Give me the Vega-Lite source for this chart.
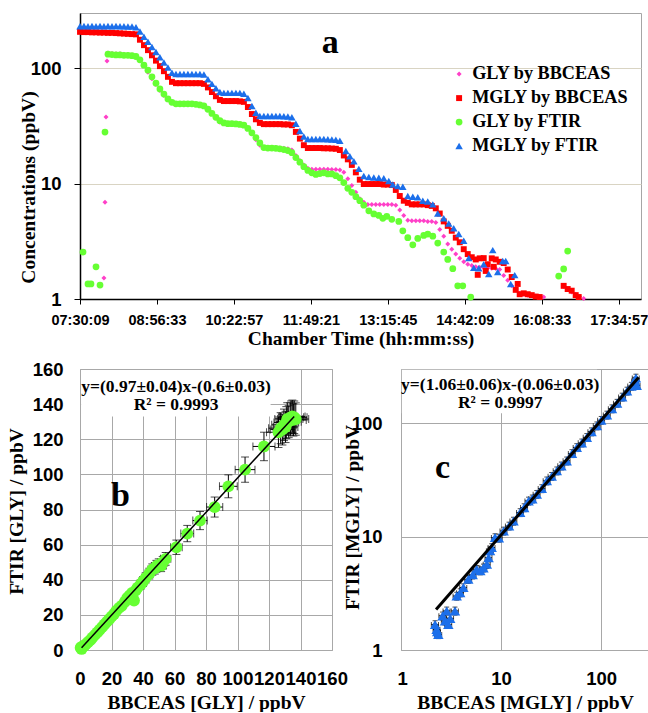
{
"$schema": "https://vega.github.io/schema/vega-lite/v6.json",
"padding": {"left": 5, "top": 12, "right": 0, "bottom": 0},
"background": "white",
"config": {
  "view": {"stroke": "#A6A6A6", "strokeWidth": 1},
  "axis": {"labelFont": "Liberation Sans", "labelFontWeight": "bold", "labelColor": "black", "titleFont": "Liberation Serif", "titleFontWeight": "bold", "titleFontSize": 19.5, "titleColor": "black"}
},
"datasets": {
"a": [
{"t":7.951,"v":1.52,"s":"GLY by BBCEAS"},{"t":7.970,"v":6.9,"s":"GLY by BBCEAS"},{"t":7.989,"v":37.7,"s":"GLY by BBCEAS"},{"t":8.008,"v":115,"s":"GLY by BBCEAS"},
{"t":8.026,"v":135,"s":"GLY by BBCEAS"},{"t":8.101,"v":134,"s":"GLY by BBCEAS"},{"t":8.176,"v":133,"s":"GLY by BBCEAS"},{"t":8.251,"v":133,"s":"GLY by BBCEAS"},{"t":8.325,"v":132,"s":"GLY by BBCEAS"},{"t":8.400,"v":131,"s":"GLY by BBCEAS"},{"t":8.475,"v":130,"s":"GLY by BBCEAS"},{"t":8.550,"v":128,"s":"GLY by BBCEAS"},{"t":8.624,"v":118,"s":"GLY by BBCEAS"},{"t":8.699,"v":104,"s":"GLY by BBCEAS"},{"t":8.774,"v":92,"s":"GLY by BBCEAS"},{"t":8.849,"v":81,"s":"GLY by BBCEAS"},{"t":8.924,"v":72,"s":"GLY by BBCEAS"},{"t":8.998,"v":64,"s":"GLY by BBCEAS"},{"t":9.073,"v":58,"s":"GLY by BBCEAS"},{"t":9.148,"v":53,"s":"GLY by BBCEAS"},{"t":9.223,"v":50,"s":"GLY by BBCEAS"},{"t":9.298,"v":49.5,"s":"GLY by BBCEAS"},{"t":9.373,"v":49.5,"s":"GLY by BBCEAS"},{"t":9.447,"v":49.5,"s":"GLY by BBCEAS"},{"t":9.522,"v":49.5,"s":"GLY by BBCEAS"},{"t":9.597,"v":49,"s":"GLY by BBCEAS"},{"t":9.672,"v":49,"s":"GLY by BBCEAS"},{"t":9.746,"v":48.5,"s":"GLY by BBCEAS"},{"t":9.821,"v":48,"s":"GLY by BBCEAS"},{"t":9.896,"v":45,"s":"GLY by BBCEAS"},{"t":9.971,"v":41,"s":"GLY by BBCEAS"},{"t":10.046,"v":37,"s":"GLY by BBCEAS"},{"t":10.120,"v":34,"s":"GLY by BBCEAS"},{"t":10.195,"v":33.5,"s":"GLY by BBCEAS"},{"t":10.270,"v":33.5,"s":"GLY by BBCEAS"},{"t":10.345,"v":33.5,"s":"GLY by BBCEAS"},{"t":10.420,"v":33,"s":"GLY by BBCEAS"},{"t":10.494,"v":33,"s":"GLY by BBCEAS"},{"t":10.569,"v":32.5,"s":"GLY by BBCEAS"},{"t":10.644,"v":30,"s":"GLY by BBCEAS"},{"t":10.719,"v":27,"s":"GLY by BBCEAS"},{"t":10.794,"v":24,"s":"GLY by BBCEAS"},{"t":10.868,"v":21.5,"s":"GLY by BBCEAS"},{"t":10.943,"v":20.5,"s":"GLY by BBCEAS"},{"t":11.018,"v":20.5,"s":"GLY by BBCEAS"},{"t":11.093,"v":20.5,"s":"GLY by BBCEAS"},{"t":11.168,"v":20.5,"s":"GLY by BBCEAS"},{"t":11.242,"v":20.3,"s":"GLY by BBCEAS"},{"t":11.317,"v":20.2,"s":"GLY by BBCEAS"},{"t":11.392,"v":20,"s":"GLY by BBCEAS"},{"t":11.467,"v":19.5,"s":"GLY by BBCEAS"},{"t":11.542,"v":17.5,"s":"GLY by BBCEAS"},{"t":11.617,"v":15.8,"s":"GLY by BBCEAS"},{"t":11.691,"v":14.5,"s":"GLY by BBCEAS"},{"t":11.766,"v":13.6,"s":"GLY by BBCEAS"},{"t":11.841,"v":13.3,"s":"GLY by BBCEAS"},{"t":11.916,"v":13.3,"s":"GLY by BBCEAS"},{"t":11.990,"v":13.3,"s":"GLY by BBCEAS"},{"t":12.065,"v":13.3,"s":"GLY by BBCEAS"},{"t":12.140,"v":13.3,"s":"GLY by BBCEAS"},{"t":12.215,"v":13.2,"s":"GLY by BBCEAS"},{"t":12.290,"v":13.2,"s":"GLY by BBCEAS"},{"t":12.365,"v":13.1,"s":"GLY by BBCEAS"},{"t":12.439,"v":12.5,"s":"GLY by BBCEAS"},{"t":12.514,"v":11,"s":"GLY by BBCEAS"},{"t":12.589,"v":9.6,"s":"GLY by BBCEAS"},{"t":12.664,"v":8.4,"s":"GLY by BBCEAS"},{"t":12.738,"v":7.4,"s":"GLY by BBCEAS"},{"t":12.813,"v":6.9,"s":"GLY by BBCEAS"},{"t":12.888,"v":6.6,"s":"GLY by BBCEAS"},{"t":12.963,"v":6.6,"s":"GLY by BBCEAS"},{"t":13.038,"v":6.6,"s":"GLY by BBCEAS"},{"t":13.112,"v":6.6,"s":"GLY by BBCEAS"},{"t":13.187,"v":6.6,"s":"GLY by BBCEAS"},{"t":13.262,"v":6.6,"s":"GLY by BBCEAS"},{"t":13.337,"v":6.6,"s":"GLY by BBCEAS"},{"t":13.412,"v":6.5,"s":"GLY by BBCEAS"},{"t":13.486,"v":5.9,"s":"GLY by BBCEAS"},{"t":13.561,"v":5.3,"s":"GLY by BBCEAS"},{"t":13.636,"v":4.8,"s":"GLY by BBCEAS"},{"t":13.711,"v":4.75,"s":"GLY by BBCEAS"},{"t":13.786,"v":4.75,"s":"GLY by BBCEAS"},{"t":13.860,"v":4.75,"s":"GLY by BBCEAS"},{"t":13.935,"v":4.75,"s":"GLY by BBCEAS"},{"t":14.010,"v":4.7,"s":"GLY by BBCEAS"},{"t":14.085,"v":4.7,"s":"GLY by BBCEAS"},{"t":14.160,"v":4.6,"s":"GLY by BBCEAS"},{"t":14.234,"v":4.0,"s":"GLY by BBCEAS"},{"t":14.309,"v":3.5,"s":"GLY by BBCEAS"},{"t":14.384,"v":3.0,"s":"GLY by BBCEAS"},{"t":14.459,"v":2.7,"s":"GLY by BBCEAS"},{"t":14.534,"v":2.45,"s":"GLY by BBCEAS"},{"t":14.608,"v":2.25,"s":"GLY by BBCEAS"},{"t":14.683,"v":2.1,"s":"GLY by BBCEAS"},{"t":14.758,"v":2.0,"s":"GLY by BBCEAS"},{"t":14.833,"v":1.95,"s":"GLY by BBCEAS"},{"t":14.908,"v":1.9,"s":"GLY by BBCEAS"},{"t":14.982,"v":1.88,"s":"GLY by BBCEAS"},{"t":15.057,"v":1.86,"s":"GLY by BBCEAS"},{"t":15.132,"v":1.85,"s":"GLY by BBCEAS"},{"t":15.207,"v":1.85,"s":"GLY by BBCEAS"},{"t":15.282,"v":1.84,"s":"GLY by BBCEAS"},{"t":15.356,"v":1.8,"s":"GLY by BBCEAS"},{"t":15.431,"v":1.6,"s":"GLY by BBCEAS"},{"t":15.506,"v":1.45,"s":"GLY by BBCEAS"},{"t":15.581,"v":1.3,"s":"GLY by BBCEAS"},{"t":15.656,"v":1.2,"s":"GLY by BBCEAS"},{"t":15.730,"v":1.12,"s":"GLY by BBCEAS"},{"t":15.805,"v":1.1,"s":"GLY by BBCEAS"},{"t":15.880,"v":1.08,"s":"GLY by BBCEAS"},{"t":15.955,"v":1.07,"s":"GLY by BBCEAS"},{"t":16.030,"v":1.06,"s":"GLY by BBCEAS"},{"t":16.104,"v":1.05,"s":"GLY by BBCEAS"},{"t":16.179,"v":1.04,"s":"GLY by BBCEAS"},{"t":16.553,"v":1.28,"s":"GLY by BBCEAS"},{"t":16.628,"v":1.22,"s":"GLY by BBCEAS"},{"t":16.703,"v":1.15,"s":"GLY by BBCEAS"},{"t":16.778,"v":1.1,"s":"GLY by BBCEAS"},{"t":16.852,"v":1.05,"s":"GLY by BBCEAS"},{"t":16.927,"v":1.01,"s":"GLY by BBCEAS"},
{"t":7.503,"v":206,"s":"MGLY by BBCEAS"},{"t":7.577,"v":205,"s":"MGLY by BBCEAS"},{"t":7.652,"v":205,"s":"MGLY by BBCEAS"},{"t":7.727,"v":204,"s":"MGLY by BBCEAS"},{"t":7.802,"v":204,"s":"MGLY by BBCEAS"},{"t":7.877,"v":203,"s":"MGLY by BBCEAS"},{"t":7.951,"v":203,"s":"MGLY by BBCEAS"},{"t":8.026,"v":202,"s":"MGLY by BBCEAS"},{"t":8.101,"v":202,"s":"MGLY by BBCEAS"},{"t":8.176,"v":201,"s":"MGLY by BBCEAS"},{"t":8.251,"v":200,"s":"MGLY by BBCEAS"},{"t":8.325,"v":199,"s":"MGLY by BBCEAS"},{"t":8.400,"v":198,"s":"MGLY by BBCEAS"},{"t":8.475,"v":197,"s":"MGLY by BBCEAS"},{"t":8.550,"v":196,"s":"MGLY by BBCEAS"},{"t":8.624,"v":176,"s":"MGLY by BBCEAS"},{"t":8.699,"v":158,"s":"MGLY by BBCEAS"},{"t":8.774,"v":143,"s":"MGLY by BBCEAS"},{"t":8.849,"v":129,"s":"MGLY by BBCEAS"},{"t":8.924,"v":116,"s":"MGLY by BBCEAS"},{"t":8.998,"v":104,"s":"MGLY by BBCEAS"},{"t":9.073,"v":94,"s":"MGLY by BBCEAS"},{"t":9.148,"v":84,"s":"MGLY by BBCEAS"},{"t":9.223,"v":76,"s":"MGLY by BBCEAS"},{"t":9.298,"v":74,"s":"MGLY by BBCEAS"},{"t":9.373,"v":74,"s":"MGLY by BBCEAS"},{"t":9.447,"v":74,"s":"MGLY by BBCEAS"},{"t":9.522,"v":74,"s":"MGLY by BBCEAS"},{"t":9.597,"v":74,"s":"MGLY by BBCEAS"},{"t":9.672,"v":74,"s":"MGLY by BBCEAS"},{"t":9.746,"v":74,"s":"MGLY by BBCEAS"},{"t":9.821,"v":73,"s":"MGLY by BBCEAS"},{"t":9.896,"v":68,"s":"MGLY by BBCEAS"},{"t":9.971,"v":62,"s":"MGLY by BBCEAS"},{"t":10.046,"v":57,"s":"MGLY by BBCEAS"},{"t":10.120,"v":53,"s":"MGLY by BBCEAS"},{"t":10.195,"v":51.8,"s":"MGLY by BBCEAS"},{"t":10.270,"v":51.8,"s":"MGLY by BBCEAS"},{"t":10.345,"v":51.8,"s":"MGLY by BBCEAS"},{"t":10.420,"v":51.8,"s":"MGLY by BBCEAS"},{"t":10.494,"v":51.5,"s":"MGLY by BBCEAS"},{"t":10.569,"v":51,"s":"MGLY by BBCEAS"},{"t":10.644,"v":46,"s":"MGLY by BBCEAS"},{"t":10.719,"v":40,"s":"MGLY by BBCEAS"},{"t":10.794,"v":36,"s":"MGLY by BBCEAS"},{"t":10.868,"v":33.5,"s":"MGLY by BBCEAS"},{"t":10.943,"v":32.7,"s":"MGLY by BBCEAS"},{"t":11.018,"v":32.7,"s":"MGLY by BBCEAS"},{"t":11.093,"v":32.7,"s":"MGLY by BBCEAS"},{"t":11.168,"v":32.7,"s":"MGLY by BBCEAS"},{"t":11.242,"v":32.7,"s":"MGLY by BBCEAS"},{"t":11.317,"v":32.5,"s":"MGLY by BBCEAS"},{"t":11.392,"v":32.5,"s":"MGLY by BBCEAS"},{"t":11.467,"v":32,"s":"MGLY by BBCEAS"},{"t":11.542,"v":28,"s":"MGLY by BBCEAS"},{"t":11.617,"v":24.5,"s":"MGLY by BBCEAS"},{"t":11.691,"v":21.5,"s":"MGLY by BBCEAS"},{"t":11.766,"v":20.3,"s":"MGLY by BBCEAS"},{"t":11.841,"v":20.3,"s":"MGLY by BBCEAS"},{"t":11.916,"v":20.3,"s":"MGLY by BBCEAS"},{"t":11.990,"v":20.3,"s":"MGLY by BBCEAS"},{"t":12.065,"v":20.2,"s":"MGLY by BBCEAS"},{"t":12.140,"v":20.2,"s":"MGLY by BBCEAS"},{"t":12.215,"v":20.1,"s":"MGLY by BBCEAS"},{"t":12.290,"v":20,"s":"MGLY by BBCEAS"},{"t":12.365,"v":19.5,"s":"MGLY by BBCEAS"},{"t":12.439,"v":17.5,"s":"MGLY by BBCEAS"},{"t":12.514,"v":16.2,"s":"MGLY by BBCEAS"},{"t":12.589,"v":14.5,"s":"MGLY by BBCEAS"},{"t":12.664,"v":12.5,"s":"MGLY by BBCEAS"},{"t":12.738,"v":10.8,"s":"MGLY by BBCEAS"},{"t":12.813,"v":9.9,"s":"MGLY by BBCEAS"},{"t":12.888,"v":9.9,"s":"MGLY by BBCEAS"},{"t":12.963,"v":9.9,"s":"MGLY by BBCEAS"},{"t":13.038,"v":9.9,"s":"MGLY by BBCEAS"},{"t":13.112,"v":9.9,"s":"MGLY by BBCEAS"},{"t":13.187,"v":9.8,"s":"MGLY by BBCEAS"},{"t":13.262,"v":9.8,"s":"MGLY by BBCEAS"},{"t":13.337,"v":9.7,"s":"MGLY by BBCEAS"},{"t":13.412,"v":8.8,"s":"MGLY by BBCEAS"},{"t":13.486,"v":7.8,"s":"MGLY by BBCEAS"},{"t":13.561,"v":7.1,"s":"MGLY by BBCEAS"},{"t":13.636,"v":6.8,"s":"MGLY by BBCEAS"},{"t":13.711,"v":6.6,"s":"MGLY by BBCEAS"},{"t":13.786,"v":6.6,"s":"MGLY by BBCEAS"},{"t":13.860,"v":6.6,"s":"MGLY by BBCEAS"},{"t":13.935,"v":6.6,"s":"MGLY by BBCEAS"},{"t":14.010,"v":6.5,"s":"MGLY by BBCEAS"},{"t":14.085,"v":6.4,"s":"MGLY by BBCEAS"},{"t":14.160,"v":6.1,"s":"MGLY by BBCEAS"},{"t":14.234,"v":5.5,"s":"MGLY by BBCEAS"},{"t":14.309,"v":4.7,"s":"MGLY by BBCEAS"},{"t":14.384,"v":4.3,"s":"MGLY by BBCEAS"},{"t":14.459,"v":3.9,"s":"MGLY by BBCEAS"},{"t":14.534,"v":3.4,"s":"MGLY by BBCEAS"},{"t":14.608,"v":3.1,"s":"MGLY by BBCEAS"},{"t":14.683,"v":2.7,"s":"MGLY by BBCEAS"},{"t":14.758,"v":2.45,"s":"MGLY by BBCEAS"},{"t":14.833,"v":2.3,"s":"MGLY by BBCEAS"},{"t":14.908,"v":2.2,"s":"MGLY by BBCEAS"},{"t":14.945,"v":1.62,"s":"MGLY by BBCEAS"},{"t":14.982,"v":2.25,"s":"MGLY by BBCEAS"},{"t":15.057,"v":2.26,"s":"MGLY by BBCEAS"},{"t":15.095,"v":1.75,"s":"MGLY by BBCEAS"},{"t":15.132,"v":2.0,"s":"MGLY by BBCEAS"},{"t":15.207,"v":2.25,"s":"MGLY by BBCEAS"},{"t":15.245,"v":1.9,"s":"MGLY by BBCEAS"},{"t":15.282,"v":2.2,"s":"MGLY by BBCEAS"},{"t":15.356,"v":2.1,"s":"MGLY by BBCEAS"},{"t":15.431,"v":2.05,"s":"MGLY by BBCEAS"},{"t":15.506,"v":1.8,"s":"MGLY by BBCEAS"},{"t":15.581,"v":1.55,"s":"MGLY by BBCEAS"},{"t":15.656,"v":1.2,"s":"MGLY by BBCEAS"},{"t":15.693,"v":1.35,"s":"MGLY by BBCEAS"},{"t":15.730,"v":1.1,"s":"MGLY by BBCEAS"},{"t":15.805,"v":1.12,"s":"MGLY by BBCEAS"},{"t":15.880,"v":1.1,"s":"MGLY by BBCEAS"},{"t":15.955,"v":1.08,"s":"MGLY by BBCEAS"},{"t":16.030,"v":1.05,"s":"MGLY by BBCEAS"},{"t":16.104,"v":1.04,"s":"MGLY by BBCEAS"},{"t":16.553,"v":1.3,"s":"MGLY by BBCEAS"},{"t":16.628,"v":1.22,"s":"MGLY by BBCEAS"},{"t":16.703,"v":1.18,"s":"MGLY by BBCEAS"},{"t":16.778,"v":1.08,"s":"MGLY by BBCEAS"},{"t":16.834,"v":1.04,"s":"MGLY by BBCEAS"},
{"t":7.559,"v":2.55,"s":"GLY by FTIR"},{"t":7.652,"v":1.35,"s":"GLY by FTIR"},{"t":7.708,"v":1.35,"s":"GLY by FTIR"},{"t":7.802,"v":1.9,"s":"GLY by FTIR"},{"t":7.877,"v":1.32,"s":"GLY by FTIR"},{"t":7.970,"v":27.9,"s":"GLY by FTIR"},{"t":8.026,"v":132,"s":"GLY by FTIR"},{"t":8.101,"v":131,"s":"GLY by FTIR"},{"t":8.176,"v":130,"s":"GLY by FTIR"},{"t":8.251,"v":130,"s":"GLY by FTIR"},{"t":8.325,"v":129,"s":"GLY by FTIR"},{"t":8.400,"v":129,"s":"GLY by FTIR"},{"t":8.475,"v":128,"s":"GLY by FTIR"},{"t":8.550,"v":126,"s":"GLY by FTIR"},{"t":8.624,"v":118,"s":"GLY by FTIR"},{"t":8.699,"v":106,"s":"GLY by FTIR"},{"t":8.774,"v":96,"s":"GLY by FTIR"},{"t":8.849,"v":84,"s":"GLY by FTIR"},{"t":8.924,"v":74,"s":"GLY by FTIR"},{"t":8.998,"v":66,"s":"GLY by FTIR"},{"t":9.073,"v":59.5,"s":"GLY by FTIR"},{"t":9.148,"v":54,"s":"GLY by FTIR"},{"t":9.223,"v":50.5,"s":"GLY by FTIR"},{"t":9.298,"v":49,"s":"GLY by FTIR"},{"t":9.373,"v":49,"s":"GLY by FTIR"},{"t":9.447,"v":49,"s":"GLY by FTIR"},{"t":9.522,"v":49,"s":"GLY by FTIR"},{"t":9.597,"v":49,"s":"GLY by FTIR"},{"t":9.672,"v":48.5,"s":"GLY by FTIR"},{"t":9.746,"v":48,"s":"GLY by FTIR"},{"t":9.821,"v":47,"s":"GLY by FTIR"},{"t":9.896,"v":44,"s":"GLY by FTIR"},{"t":9.971,"v":40.5,"s":"GLY by FTIR"},{"t":10.046,"v":37.5,"s":"GLY by FTIR"},{"t":10.120,"v":35,"s":"GLY by FTIR"},{"t":10.195,"v":33.5,"s":"GLY by FTIR"},{"t":10.270,"v":33,"s":"GLY by FTIR"},{"t":10.345,"v":33,"s":"GLY by FTIR"},{"t":10.420,"v":32.8,"s":"GLY by FTIR"},{"t":10.494,"v":32.5,"s":"GLY by FTIR"},{"t":10.569,"v":32,"s":"GLY by FTIR"},{"t":10.644,"v":30,"s":"GLY by FTIR"},{"t":10.719,"v":27.5,"s":"GLY by FTIR"},{"t":10.794,"v":25,"s":"GLY by FTIR"},{"t":10.868,"v":22.5,"s":"GLY by FTIR"},{"t":10.943,"v":20.5,"s":"GLY by FTIR"},{"t":11.018,"v":20.3,"s":"GLY by FTIR"},{"t":11.093,"v":20.3,"s":"GLY by FTIR"},{"t":11.168,"v":20.2,"s":"GLY by FTIR"},{"t":11.242,"v":20,"s":"GLY by FTIR"},{"t":11.317,"v":19.7,"s":"GLY by FTIR"},{"t":11.392,"v":19.3,"s":"GLY by FTIR"},{"t":11.467,"v":18.5,"s":"GLY by FTIR"},{"t":11.542,"v":16.8,"s":"GLY by FTIR"},{"t":11.617,"v":15.3,"s":"GLY by FTIR"},{"t":11.691,"v":14,"s":"GLY by FTIR"},{"t":11.766,"v":13,"s":"GLY by FTIR"},{"t":11.841,"v":12.4,"s":"GLY by FTIR"},{"t":11.916,"v":12,"s":"GLY by FTIR"},{"t":11.990,"v":12.2,"s":"GLY by FTIR"},{"t":12.065,"v":12.4,"s":"GLY by FTIR"},{"t":12.140,"v":12.1,"s":"GLY by FTIR"},{"t":12.215,"v":12.1,"s":"GLY by FTIR"},{"t":12.290,"v":11.7,"s":"GLY by FTIR"},{"t":12.365,"v":11.2,"s":"GLY by FTIR"},{"t":12.439,"v":10.2,"s":"GLY by FTIR"},{"t":12.514,"v":9.1,"s":"GLY by FTIR"},{"t":12.589,"v":8.4,"s":"GLY by FTIR"},{"t":12.664,"v":7.7,"s":"GLY by FTIR"},{"t":12.738,"v":7.1,"s":"GLY by FTIR"},{"t":12.813,"v":6.5,"s":"GLY by FTIR"},{"t":12.907,"v":5.8,"s":"GLY by FTIR"},{"t":13.000,"v":5.45,"s":"GLY by FTIR"},{"t":13.094,"v":5.3,"s":"GLY by FTIR"},{"t":13.169,"v":5.0,"s":"GLY by FTIR"},{"t":13.243,"v":5.2,"s":"GLY by FTIR"},{"t":13.337,"v":4.9,"s":"GLY by FTIR"},{"t":13.468,"v":4.7,"s":"GLY by FTIR"},{"t":13.543,"v":3.9,"s":"GLY by FTIR"},{"t":13.636,"v":3.4,"s":"GLY by FTIR"},{"t":13.730,"v":2.95,"s":"GLY by FTIR"},{"t":13.823,"v":3.35,"s":"GLY by FTIR"},{"t":13.935,"v":3.55,"s":"GLY by FTIR"},{"t":14.010,"v":3.65,"s":"GLY by FTIR"},{"t":14.104,"v":3.5,"s":"GLY by FTIR"},{"t":14.197,"v":3.05,"s":"GLY by FTIR"},{"t":14.309,"v":2.55,"s":"GLY by FTIR"},{"t":14.384,"v":2.2,"s":"GLY by FTIR"},{"t":14.478,"v":1.83,"s":"GLY by FTIR"},{"t":14.571,"v":1.3,"s":"GLY by FTIR"},{"t":14.665,"v":1.3,"s":"GLY by FTIR"},{"t":14.814,"v":1.04,"s":"GLY by FTIR"},{"t":16.460,"v":1.58,"s":"GLY by FTIR"},{"t":16.553,"v":1.82,"s":"GLY by FTIR"},{"t":16.628,"v":2.6,"s":"GLY by FTIR"},
{"t":7.503,"v":230,"s":"MGLY by FTIR"},{"t":7.577,"v":232,"s":"MGLY by FTIR"},{"t":7.652,"v":230,"s":"MGLY by FTIR"},{"t":7.727,"v":232,"s":"MGLY by FTIR"},{"t":7.802,"v":230,"s":"MGLY by FTIR"},{"t":7.877,"v":232,"s":"MGLY by FTIR"},{"t":7.951,"v":230,"s":"MGLY by FTIR"},{"t":8.026,"v":231,"s":"MGLY by FTIR"},{"t":8.101,"v":230,"s":"MGLY by FTIR"},{"t":8.176,"v":231,"s":"MGLY by FTIR"},{"t":8.251,"v":230,"s":"MGLY by FTIR"},{"t":8.325,"v":230,"s":"MGLY by FTIR"},{"t":8.400,"v":229,"s":"MGLY by FTIR"},{"t":8.475,"v":229,"s":"MGLY by FTIR"},{"t":8.550,"v":226,"s":"MGLY by FTIR"},{"t":8.624,"v":207,"s":"MGLY by FTIR"},{"t":8.699,"v":187,"s":"MGLY by FTIR"},{"t":8.774,"v":169,"s":"MGLY by FTIR"},{"t":8.849,"v":152,"s":"MGLY by FTIR"},{"t":8.924,"v":138,"s":"MGLY by FTIR"},{"t":8.998,"v":124,"s":"MGLY by FTIR"},{"t":9.073,"v":112,"s":"MGLY by FTIR"},{"t":9.148,"v":101,"s":"MGLY by FTIR"},{"t":9.223,"v":91,"s":"MGLY by FTIR"},{"t":9.298,"v":89,"s":"MGLY by FTIR"},{"t":9.373,"v":89,"s":"MGLY by FTIR"},{"t":9.447,"v":89,"s":"MGLY by FTIR"},{"t":9.522,"v":89,"s":"MGLY by FTIR"},{"t":9.597,"v":89,"s":"MGLY by FTIR"},{"t":9.672,"v":89,"s":"MGLY by FTIR"},{"t":9.746,"v":89,"s":"MGLY by FTIR"},{"t":9.821,"v":88,"s":"MGLY by FTIR"},{"t":9.896,"v":80,"s":"MGLY by FTIR"},{"t":9.971,"v":73,"s":"MGLY by FTIR"},{"t":10.046,"v":67,"s":"MGLY by FTIR"},{"t":10.120,"v":62,"s":"MGLY by FTIR"},{"t":10.195,"v":61,"s":"MGLY by FTIR"},{"t":10.270,"v":61,"s":"MGLY by FTIR"},{"t":10.345,"v":61,"s":"MGLY by FTIR"},{"t":10.420,"v":61,"s":"MGLY by FTIR"},{"t":10.494,"v":61,"s":"MGLY by FTIR"},{"t":10.569,"v":60,"s":"MGLY by FTIR"},{"t":10.644,"v":55,"s":"MGLY by FTIR"},{"t":10.719,"v":47,"s":"MGLY by FTIR"},{"t":10.794,"v":41,"s":"MGLY by FTIR"},{"t":10.868,"v":38.4,"s":"MGLY by FTIR"},{"t":10.943,"v":38.4,"s":"MGLY by FTIR"},{"t":11.018,"v":38.4,"s":"MGLY by FTIR"},{"t":11.093,"v":38.4,"s":"MGLY by FTIR"},{"t":11.168,"v":38.4,"s":"MGLY by FTIR"},{"t":11.242,"v":38.4,"s":"MGLY by FTIR"},{"t":11.317,"v":38.2,"s":"MGLY by FTIR"},{"t":11.392,"v":38,"s":"MGLY by FTIR"},{"t":11.467,"v":37.5,"s":"MGLY by FTIR"},{"t":11.542,"v":33,"s":"MGLY by FTIR"},{"t":11.617,"v":28.5,"s":"MGLY by FTIR"},{"t":11.691,"v":25.5,"s":"MGLY by FTIR"},{"t":11.766,"v":24.3,"s":"MGLY by FTIR"},{"t":11.841,"v":24.3,"s":"MGLY by FTIR"},{"t":11.916,"v":24.3,"s":"MGLY by FTIR"},{"t":11.990,"v":24.3,"s":"MGLY by FTIR"},{"t":12.065,"v":24.3,"s":"MGLY by FTIR"},{"t":12.140,"v":24.2,"s":"MGLY by FTIR"},{"t":12.215,"v":24.1,"s":"MGLY by FTIR"},{"t":12.290,"v":24,"s":"MGLY by FTIR"},{"t":12.365,"v":23.5,"s":"MGLY by FTIR"},{"t":12.477,"v":19.1,"s":"MGLY by FTIR"},{"t":12.552,"v":17.2,"s":"MGLY by FTIR"},{"t":12.627,"v":15.6,"s":"MGLY by FTIR"},{"t":12.720,"v":13.4,"s":"MGLY by FTIR"},{"t":12.813,"v":11.6,"s":"MGLY by FTIR"},{"t":12.907,"v":11.4,"s":"MGLY by FTIR"},{"t":13.000,"v":11.3,"s":"MGLY by FTIR"},{"t":13.094,"v":11.2,"s":"MGLY by FTIR"},{"t":13.187,"v":11.1,"s":"MGLY by FTIR"},{"t":13.281,"v":10.5,"s":"MGLY by FTIR"},{"t":13.356,"v":9.8,"s":"MGLY by FTIR"},{"t":13.449,"v":9.5,"s":"MGLY by FTIR"},{"t":13.543,"v":9.4,"s":"MGLY by FTIR"},{"t":13.636,"v":7.8,"s":"MGLY by FTIR"},{"t":13.730,"v":7.7,"s":"MGLY by FTIR"},{"t":13.823,"v":7.6,"s":"MGLY by FTIR"},{"t":13.917,"v":7.1,"s":"MGLY by FTIR"},{"t":14.010,"v":7.0,"s":"MGLY by FTIR"},{"t":14.104,"v":6.6,"s":"MGLY by FTIR"},{"t":14.197,"v":5.5,"s":"MGLY by FTIR"},{"t":14.309,"v":5.0,"s":"MGLY by FTIR"},{"t":14.403,"v":4.5,"s":"MGLY by FTIR"},{"t":14.496,"v":4.1,"s":"MGLY by FTIR"},{"t":14.590,"v":3.65,"s":"MGLY by FTIR"},{"t":14.683,"v":3.2,"s":"MGLY by FTIR"},{"t":14.777,"v":2.26,"s":"MGLY by FTIR"},{"t":14.870,"v":1.86,"s":"MGLY by FTIR"},{"t":14.964,"v":1.85,"s":"MGLY by FTIR"},{"t":15.057,"v":2.0,"s":"MGLY by FTIR"},{"t":15.151,"v":1.65,"s":"MGLY by FTIR"},{"t":15.226,"v":2.65,"s":"MGLY by FTIR"},{"t":15.319,"v":1.71,"s":"MGLY by FTIR"},{"t":15.413,"v":2.13,"s":"MGLY by FTIR"},{"t":15.469,"v":2.13,"s":"MGLY by FTIR"},{"t":15.562,"v":1.35,"s":"MGLY by FTIR"},{"t":15.637,"v":1.61,"s":"MGLY by FTIR"}
],
"b": [
{"x":0.4,"y":1.3},{"x":1.0,"y":0.6},{"x":1.5,"y":2.0},{"x":2.5,"y":2.2},{"x":3.6,"y":3.2},{"x":5.0,"y":4.4},{"x":6.5,"y":5.6},{"x":7.8,"y":7.0},{"x":9.5,"y":8.6},{"x":11,"y":10},{"x":12.5,"y":11.5},{"x":14,"y":13},{"x":15.5,"y":14.6},{"x":17,"y":16},{"x":18.5,"y":17.5},{"x":20,"y":19},{"x":21.6,"y":20.5},{"x":23,"y":22.3},{"x":24.8,"y":24},{"x":26.5,"y":25.2},{"x":28.5,"y":27.5},{"x":30,"y":29.7},{"x":31.5,"y":31},{"x":33,"y":32.5},{"x":34.3,"y":28.2},{"x":35.3,"y":33.8},{"x":36.5,"y":35.5},
{"x":38.5,"y":37.3,"xl":36.19,"xh":40.81,"yl":34.69,"yh":39.91},
{"x":40,"y":39,"xl":37.6,"xh":42.4,"yl":36.27,"yh":41.73},
{"x":41.7,"y":41.1,"xl":39.2,"xh":44.2,"yl":38.22,"yh":43.98},
{"x":44,"y":43.5,"xl":41.36,"xh":46.64,"yl":40.46,"yh":46.55},
{"x":45.9,"y":45.8,"xl":43.15,"xh":48.65,"yl":42.59,"yh":49.01},
{"x":47.5,"y":46.5,"xl":44.65,"xh":50.35,"yl":43.25,"yh":49.76},
{"x":48.5,"y":47.7,"xl":45.59,"xh":51.41,"yl":44.36,"yh":51.04},
{"x":50,"y":48.5,"xl":47,"xh":53,"yl":45.11,"yh":51.9},
{"x":51.5,"y":48,"xl":48.41,"xh":54.59,"yl":44.64,"yh":51.36},
{"x":52.5,"y":49.8,"xl":49.35,"xh":55.65,"yl":46.31,"yh":53.29},
{"x":54.4,"y":51.9,"xl":51.14,"xh":57.66,"yl":48.27,"yh":55.53},
{"x":61.2,"y":58.5,"xl":57.53,"xh":64.87,"yl":54.41,"yh":62.6},
{"x":68.1,"y":66.3,"xl":64.01,"xh":72.19,"yl":61.66,"yh":70.94},
{"x":76.2,"y":73.7,"xl":71.63,"xh":80.77,"yl":68.54,"yh":78.86},
{"x":85.5,"y":81.4,"xl":80.37,"xh":90.63,"yl":75.7,"yh":87.1},
{"x":94.2,"y":93.2,"xl":88.55,"xh":99.85,"yl":86.68,"yh":99.72},
{"x":104.8,"y":102.7,"xl":98.51,"xh":111.09,"yl":95.51,"yh":109.89},
{"x":116.8,"y":115.9,"xl":109.79,"xh":123.81,"yl":107.79,"yh":124.01},
{"x":126,"y":124,"xl":118.44,"xh":133.56,"yl":115.32,"yh":132.68},
{"x":127.4,"y":126.3,"xl":119.76,"xh":135.04,"yl":117.46,"yh":135.14},
{"x":128.5,"y":125.5,"xl":120.79,"xh":136.21,"yl":116.72,"yh":134.29},
{"x":129.5,"y":128.2,"xl":121.73,"xh":137.27,"yl":119.23,"yh":137.17},
{"x":130.5,"y":127,"xl":122.67,"xh":138.33,"yl":118.11,"yh":135.89},
{"x":131,"y":129.5,"xl":123.14,"xh":138.86,"yl":120.44,"yh":138.57},
{"x":131.6,"y":131.6,"xl":123.7,"xh":139.5,"yl":122.39,"yh":140.81},
{"x":132.5,"y":130,"xl":124.55,"xh":140.45,"yl":120.9,"yh":139.1},
{"x":133.5,"y":131.5,"xl":125.49,"xh":141.51,"yl":122.3,"yh":140.71},
{"x":134,"y":132.5,"xl":125.96,"xh":142.04,"yl":123.23,"yh":141.78},
{"x":134.8,"y":133,"xl":126.71,"xh":142.89,"yl":123.69,"yh":142.31},
{"x":135.5,"y":131,"xl":127.37,"xh":143.63,"yl":121.83,"yh":140.17},
{"x":136,"y":132.5,"xl":127.84,"xh":144.16,"yl":123.23,"yh":141.78},
{"x":137,"y":131.5,"xl":128.78,"xh":145.22,"yl":122.3,"yh":140.71}
],
"c": [
{"x":2.19,"y":1.68,"xl":2.01,"xh":2.37,"yl":1.55,"yh":1.81},
{"x":2.27,"y":1.52,"xl":2.09,"xh":2.45,"yl":1.40,"yh":1.64},
{"x":2.30,"y":1.45,"xl":2.12,"xh":2.48,"yl":1.33,"yh":1.57},
{"x":2.36,"y":1.37,"xl":2.17,"xh":2.55,"yl":1.26,"yh":1.48},
{"x":2.6,"y":2.0,"xl":2.39,"xh":2.81,"yl":1.84,"yh":2.16},
{"x":2.75,"y":1.8,"xl":2.53,"xh":2.97,"yl":1.66,"yh":1.94},
{"x":2.86,"y":2.21,"xl":2.63,"xh":3.09,"yl":2.03,"yh":2.39},
{"x":2.97,"y":1.68,"xl":2.73,"xh":3.21,"yl":1.55,"yh":1.81},
{"x":3.1,"y":1.9,"xl":2.85,"xh":3.35,"yl":1.75,"yh":2.05},
{"x":3.46,"y":2.21,"xl":3.18,"xh":3.74,"yl":2.03,"yh":2.39},
{"x":3.6,"y":2.99,"xl":3.31,"xh":3.89,"yl":2.75,"yh":3.23},
{"x":3.9,"y":3.2,"xl":3.59,"xh":4.21,"yl":2.94,"yh":3.46},
{"x":4.2,"y":3.55,"xl":3.86,"xh":4.54,"yl":3.27,"yh":3.83},
{"x":4.7,"y":4.2,"xl":4.32,"xh":5.08,"yl":3.86,"yh":4.54},
{"x":5.2,"y":4.6,"xl":4.78,"xh":5.62,"yl":4.23,"yh":4.97},
{"x":5.7,"y":5.15,"xl":5.24,"xh":6.16,"yl":4.74,"yh":5.56},
{"x":6.2,"y":5.0,"xl":5.70,"xh":6.70,"yl":4.60,"yh":5.40},
{"x":6.66,"y":5.3,"xl":6.13,"xh":7.19,"yl":4.88,"yh":5.72},
{"x":7.2,"y":5.7,"xl":6.62,"xh":7.78,"yl":5.24,"yh":6.16},
{"x":7.5,"y":6.5,"xl":6.90,"xh":8.10,"yl":5.98,"yh":7.02},
{"x":7.75,"y":7.5,"xl":7.13,"xh":8.37,"yl":6.90,"yh":8.10},
{"x":8.05,"y":8.0,"xl":7.41,"xh":8.69,"yl":7.36,"yh":8.64},
{"x":8.7,"y":9.8,"xl":8.00,"xh":9.40,"yl":9.02,"yh":10.58},
{"x":9.5,"y":9.7,"xl":8.74,"xh":10.26,"yl":8.92,"yh":10.48},
{"x":10.6,"y":11.2,"xl":9.75,"xh":11.45,"yl":10.30,"yh":12.10},
{"x":12,"y":12.4,"xl":11.04,"xh":12.96,"yl":11.41,"yh":13.39},
{"x":13.3,"y":13.7,"xl":12.24,"xh":14.36,"yl":12.60,"yh":14.80},
{"x":15.5,"y":16.3,"xl":14.26,"xh":16.74,"yl":15.00,"yh":17.60},
{"x":17,"y":18,"xl":15.64,"xh":18.36,"yl":16.56,"yh":19.44},
{"x":18.8,"y":20.6,"xl":17.30,"xh":20.30,"yl":18.95,"yh":22.25},
{"x":20.5,"y":21.5,"xl":18.86,"xh":22.14,"yl":19.78,"yh":23.22},
{"x":22.7,"y":23.6,"xl":20.88,"xh":24.52,"yl":21.71,"yh":25.49},
{"x":25.5,"y":26.5,"xl":23.46,"xh":27.54,"yl":24.38,"yh":28.62},
{"x":28.6,"y":31,"xl":26.31,"xh":30.89,"yl":28.52,"yh":33.48},
{"x":32,"y":34,"xl":29.44,"xh":34.56,"yl":31.28,"yh":36.72},
{"x":36,"y":38,"xl":33.12,"xh":38.88,"yl":34.96,"yh":41.04},
{"x":40,"y":42,"xl":36.8,"xh":43.2,"yl":38.64,"yh":45.36},
{"x":45.2,"y":46.5,"xl":41.58,"xh":48.82,"yl":42.78,"yh":50.22},
{"x":51,"y":54,"xl":46.92,"xh":55.08,"yl":49.68,"yh":58.32},
{"x":57,"y":61,"xl":52.44,"xh":61.56,"yl":56.12,"yh":65.88},
{"x":64,"y":67,"xl":58.88,"xh":69.12,"yl":61.64,"yh":72.36},
{"x":71.8,"y":74.9,"xl":66.06,"xh":77.54,"yl":68.91,"yh":80.89},
{"x":80,"y":84,"xl":73.6,"xh":86.4,"yl":77.28,"yh":90.72},
{"x":90.5,"y":94.8,"xl":83.26,"xh":97.74,"yl":87.22,"yh":102.38},
{"x":100,"y":106,"xl":92,"xh":108,"yl":97.52,"yh":114.48},
{"x":114,"y":118,"xl":104.88,"xh":123.12,"yl":108.56,"yh":127.44},
{"x":128,"y":134,"xl":117.76,"xh":138.24,"yl":123.28,"yh":144.72},
{"x":144,"y":150,"xl":132.48,"xh":155.52,"yl":138,"yh":162},
{"x":162,"y":170,"xl":149.04,"xh":174.96,"yl":156.4,"yh":183.6},
{"x":181,"y":192,"xl":166.52,"xh":195.48,"yl":176.64,"yh":207.36},
{"x":200,"y":212,"xl":184,"xh":216,"yl":195.04,"yh":228.96},
{"x":219,"y":235,"xl":201.48,"xh":236.52,"yl":216.2,"yh":253.8},
{"x":226,"y":215,"xl":207.92,"xh":244.08,"yl":197.8,"yh":232.2},
{"x":222,"y":250,"xl":204.24,"xh":239.76,"yl":230,"yh":270}
],
"bline": [{"x":1.0,"y":1.3},{"x":136,"y":133}],
"cline": [{"x":2.24,"y":2.28},{"x":236,"y":253}]
},
"vconcat": [
{
  "width": 561, "height": 286,
  "layer": [
    {
      "data": {"name": "a"},
      "mark": {"type": "point", "filled": true, "opacity": 1},
      "encoding": {
        "x": {"field": "t", "type": "quantitative",
          "scale": {"domain": [7.5025, 18.0], "nice": false, "zero": false},
          "axis": {"title": "Chamber Time (hh:mm:ss)", "values": [7.5025, 8.9425, 10.3825, 11.8225, 13.2625, 14.7025, 16.1425, 17.5825], "tickCount": 8,
            "labelExpr": "timeFormat(datetime(2000, 0, 1, 0, 0, round(datum.value * 3600)), '%H:%M:%S')",
            "grid": false, "domainColor": "black", "domainWidth": 1.5, "tickColor": "black", "tickSize": 5,
            "labelFontSize": 14.5, "labelPadding": 9, "labelFlush": false, "labelOverlap": false, "titleY": 30.5}},
        "y": {"field": "v", "type": "quantitative",
          "scale": {"type": "log", "domain": [1, 300], "nice": false},
          "axis": {"title": "Concentrations (ppbV)", "values": [1, 10, 100], "tickCount": 3, "grid": true, "gridColor": "#D9D4C3",
            "domainColor": "black", "domainWidth": 1.5, "tickColor": "black", "tickSize": 6,
            "labelFontSize": 18.5, "labelPadding": 13, "titleX": -42, "titleY": 174}},
        "color": {"field": "s", "type": "nominal",
          "scale": {"domain": ["GLY by BBCEAS", "MGLY by BBCEAS", "GLY by FTIR", "MGLY by FTIR"], "range": ["#FF3FC8", "#FF0000", "#66FF33", "#1C6FEA"]},
          "legend": {"orient": "none", "legendX": 370, "legendY": 52, "title": null, "labelFont": "Liberation Serif", "labelFontWeight": "bold", "labelFontSize": 18.2, "labelColor": "black", "rowPadding": 5, "labelOffset": 4, "symbolOpacity": 1, "symbolStrokeWidth": 0}},
        "shape": {"field": "s", "type": "nominal",
          "scale": {"domain": ["GLY by BBCEAS", "MGLY by BBCEAS", "GLY by FTIR", "MGLY by FTIR"], "range": ["diamond", "square", "circle", "triangle-up"]},
          "legend": {"orient": "none", "legendX": 370, "legendY": 52, "title": null, "labelFont": "Liberation Serif", "labelFontWeight": "bold", "labelFontSize": 18.2, "labelColor": "black", "rowPadding": 5, "labelOffset": 4, "symbolOpacity": 1, "symbolStrokeWidth": 0}},
        "size": {"field": "s", "type": "ordinal",
          "scale": {"domain": ["GLY by BBCEAS", "MGLY by BBCEAS", "GLY by FTIR", "MGLY by FTIR"], "range": [25, 56, 110, 90]},
          "legend": {"orient": "none", "legendX": 370, "legendY": 52, "title": null, "labelFont": "Liberation Serif", "labelFontWeight": "bold", "labelFontSize": 18.2, "labelColor": "black", "rowPadding": 5, "labelOffset": 4, "symbolOpacity": 1, "symbolStrokeWidth": 0}}
      }
    },
    {
      "data": {"values": [{}]},
      "mark": {"type": "text", "text": "a", "font": "Liberation Serif", "fontWeight": "bold", "fontSize": 34, "baseline": "alphabetic", "align": "center", "color": "black"},
      "encoding": {"x": {"datum": 12.187, "type": "quantitative"}, "y": {"datum": 135, "type": "quantitative"}}
    }
  ]
},
{
  "hconcat": [
    {
      "width": 252, "height": 281,
      "layer": [
        {
          "data": {"name": "b"}, "transform": [{"filter": "isValid(datum.yl)"}],
          "mark": {"type": "errorbar", "ticks": true, "size": 8, "thickness": 1, "color": "black"},
          "encoding": {
            "x": {"field": "x", "type": "quantitative", "scale": {"domain": [0, 160], "nice": false},
              "axis": {"title": "BBCEAS [GLY] / ppbV", "values": [0, 20, 40, 60, 80, 100, 120, 140, 160], "tickCount": 9, "grid": true, "gridColor": "#A8A8A8", "domain": false, "ticks": false, "labelFontSize": 18.5, "labelPadding": 19, "labelFlush": false, "labelOverlap": false, "titleY": 43}},
            "y": {"field": "yl", "type": "quantitative", "scale": {"domain": [0, 160], "nice": false},
              "axis": {"title": "FTIR [GLY] / ppbV", "values": [0, 20, 40, 60, 80, 100, 120, 140, 160], "tickCount": 9, "grid": true, "gridColor": "#A8A8A8", "domain": false, "ticks": false, "labelFontSize": 18.5, "labelPadding": 17, "labelOverlap": false, "titleX": -54, "titleY": 142}},
            "y2": {"field": "yh"}}
        },
        {
          "data": {"name": "b"}, "transform": [{"filter": "isValid(datum.xl)"}],
          "mark": {"type": "errorbar", "ticks": true, "size": 8, "thickness": 1, "color": "black"},
          "encoding": {
            "x": {"field": "xl", "type": "quantitative", "scale": {"domain": [0, 160], "nice": false},
              "axis": {"title": "BBCEAS [GLY] / ppbV", "values": [0, 20, 40, 60, 80, 100, 120, 140, 160], "tickCount": 9, "grid": true, "gridColor": "#A8A8A8", "domain": false, "ticks": false, "labelFontSize": 18.5, "labelPadding": 19, "labelFlush": false, "labelOverlap": false, "titleY": 43}},
            "x2": {"field": "xh"},
            "y": {"field": "y", "type": "quantitative", "scale": {"domain": [0, 160], "nice": false},
              "axis": {"title": "FTIR [GLY] / ppbV", "values": [0, 20, 40, 60, 80, 100, 120, 140, 160], "tickCount": 9, "grid": true, "gridColor": "#A8A8A8", "domain": false, "ticks": false, "labelFontSize": 18.5, "labelPadding": 17, "labelOverlap": false, "titleX": -54, "titleY": 142}}}
        },
        {
          "data": {"name": "b"},
          "mark": {"type": "circle", "color": "#66FF33", "opacity": 1, "size": 140},
          "encoding": {
            "x": {"field": "x", "type": "quantitative", "scale": {"domain": [0, 160], "nice": false},
              "axis": {"title": "BBCEAS [GLY] / ppbV", "values": [0, 20, 40, 60, 80, 100, 120, 140, 160], "tickCount": 9, "grid": true, "gridColor": "#A8A8A8", "domain": false, "ticks": false, "labelFontSize": 18.5, "labelPadding": 19, "labelFlush": false, "labelOverlap": false, "titleY": 43}},
            "y": {"field": "y", "type": "quantitative", "scale": {"domain": [0, 160], "nice": false},
              "axis": {"title": "FTIR [GLY] / ppbV", "values": [0, 20, 40, 60, 80, 100, 120, 140, 160], "tickCount": 9, "grid": true, "gridColor": "#A8A8A8", "domain": false, "ticks": false, "labelFontSize": 18.5, "labelPadding": 17, "labelOverlap": false, "titleX": -54, "titleY": 142}}
          }
        },
        {
          "data": {"name": "bline"},
          "mark": {"type": "line", "color": "black", "strokeWidth": 1.5},
          "encoding": {
            "x": {"field": "x", "type": "quantitative", "scale": {"domain": [0, 160], "nice": false},
              "axis": {"title": "BBCEAS [GLY] / ppbV", "values": [0, 20, 40, 60, 80, 100, 120, 140, 160], "tickCount": 9, "grid": true, "gridColor": "#A8A8A8", "domain": false, "ticks": false, "labelFontSize": 18.5, "labelPadding": 19, "labelFlush": false, "labelOverlap": false, "titleY": 43}},
            "y": {"field": "y", "type": "quantitative", "scale": {"domain": [0, 160], "nice": false},
              "axis": {"title": "FTIR [GLY] / ppbV", "values": [0, 20, 40, 60, 80, 100, 120, 140, 160], "tickCount": 9, "grid": true, "gridColor": "#A8A8A8", "domain": false, "ticks": false, "labelFontSize": 18.5, "labelPadding": 17, "labelOverlap": false, "titleX": -54, "titleY": 142}}
          }
        },
        {
          "data": {"values": [{}]},
          "mark": {"type": "rect", "fill": "white"},
          "encoding": {"x": {"datum": 0.7, "type": "quantitative"}, "x2": {"datum": 121}, "y": {"datum": 133, "type": "quantitative"}, "y2": {"datum": 159.4}}
        },
        {
          "data": {"values": [{}]},
          "mark": {"type": "text", "text": "y=(0.97±0.04)x-(0.6±0.03)", "font": "Liberation Serif", "fontWeight": "bold", "fontSize": 17.5, "baseline": "middle", "align": "center", "color": "black"},
          "encoding": {"x": {"datum": 61, "type": "quantitative"}, "y": {"datum": 149.8, "type": "quantitative"}}
        },
        {
          "data": {"values": [{}]},
          "mark": {"type": "text", "text": "R² = 0.9993", "font": "Liberation Serif", "fontWeight": "bold", "fontSize": 17.5, "baseline": "middle", "align": "center", "color": "black"},
          "encoding": {"x": {"datum": 61, "type": "quantitative"}, "y": {"datum": 139.5, "type": "quantitative"}}
        },
        {
          "data": {"values": [{}]},
          "mark": {"type": "text", "text": "b", "font": "Liberation Serif", "fontWeight": "bold", "fontSize": 34, "baseline": "alphabetic", "align": "center", "color": "black"},
          "encoding": {"x": {"datum": 25.7, "type": "quantitative"}, "y": {"datum": 82, "type": "quantitative"}}
        }
      ]
    },
    {
      "width": 248, "height": 281,
      "layer": [
        {
          "data": {"name": "c"},
          "mark": {"type": "errorbar", "ticks": true, "size": 5, "thickness": 1, "color": "black"},
          "encoding": {
            "x": {"field": "x", "type": "quantitative", "scale": {"type": "log", "domain": [1, 300], "nice": false},
              "axis": {"title": "BBCEAS [MGLY] / ppbV", "values": [1, 10, 100], "tickCount": 3, "grid": true, "gridColor": "#A8A8A8", "domain": false, "ticks": false, "labelFontSize": 18.5, "labelPadding": 19, "labelFlush": true, "labelFlushOffset": 4, "labelOverlap": false, "titleY": 43}},
            "y": {"field": "yl", "type": "quantitative", "scale": {"type": "log", "domain": [1, 300], "nice": false},
              "axis": {"title": "FTIR [MGLY] / ppbV", "values": [1, 10, 100], "tickCount": 3, "grid": true, "gridColor": "#A8A8A8", "domain": false, "ticks": false, "labelFontSize": 18.5, "labelPadding": 19, "labelOverlap": false, "titleX": -39, "titleY": 148}},
            "y2": {"field": "yh"}}
        },
        {
          "data": {"name": "c"},
          "mark": {"type": "errorbar", "ticks": true, "size": 5, "thickness": 1, "color": "black"},
          "encoding": {
            "x": {"field": "xl", "type": "quantitative", "scale": {"type": "log", "domain": [1, 300], "nice": false},
              "axis": {"title": "BBCEAS [MGLY] / ppbV", "values": [1, 10, 100], "tickCount": 3, "grid": true, "gridColor": "#A8A8A8", "domain": false, "ticks": false, "labelFontSize": 18.5, "labelPadding": 19, "labelFlush": true, "labelFlushOffset": 4, "labelOverlap": false, "titleY": 43}},
            "x2": {"field": "xh"},
            "y": {"field": "y", "type": "quantitative", "scale": {"type": "log", "domain": [1, 300], "nice": false},
              "axis": {"title": "FTIR [MGLY] / ppbV", "values": [1, 10, 100], "tickCount": 3, "grid": true, "gridColor": "#A8A8A8", "domain": false, "ticks": false, "labelFontSize": 18.5, "labelPadding": 19, "labelOverlap": false, "titleX": -39, "titleY": 148}}}
        },
        {
          "data": {"name": "c"},
          "mark": {"type": "point", "shape": "triangle-up", "filled": true, "color": "#1C6FEA", "opacity": 1, "size": 110},
          "encoding": {
            "x": {"field": "x", "type": "quantitative", "scale": {"type": "log", "domain": [1, 300], "nice": false},
              "axis": {"title": "BBCEAS [MGLY] / ppbV", "values": [1, 10, 100], "tickCount": 3, "grid": true, "gridColor": "#A8A8A8", "domain": false, "ticks": false, "labelFontSize": 18.5, "labelPadding": 19, "labelFlush": true, "labelFlushOffset": 4, "labelOverlap": false, "titleY": 43}},
            "y": {"field": "y", "type": "quantitative", "scale": {"type": "log", "domain": [1, 300], "nice": false},
              "axis": {"title": "FTIR [MGLY] / ppbV", "values": [1, 10, 100], "tickCount": 3, "grid": true, "gridColor": "#A8A8A8", "domain": false, "ticks": false, "labelFontSize": 18.5, "labelPadding": 19, "labelOverlap": false, "titleX": -39, "titleY": 148}}
          }
        },
        {
          "data": {"name": "cline"},
          "mark": {"type": "line", "color": "black", "strokeWidth": 3},
          "encoding": {
            "x": {"field": "x", "type": "quantitative", "scale": {"type": "log", "domain": [1, 300], "nice": false},
              "axis": {"title": "BBCEAS [MGLY] / ppbV", "values": [1, 10, 100], "tickCount": 3, "grid": true, "gridColor": "#A8A8A8", "domain": false, "ticks": false, "labelFontSize": 18.5, "labelPadding": 19, "labelFlush": true, "labelFlushOffset": 4, "labelOverlap": false, "titleY": 43}},
            "y": {"field": "y", "type": "quantitative", "scale": {"type": "log", "domain": [1, 300], "nice": false},
              "axis": {"title": "FTIR [MGLY] / ppbV", "values": [1, 10, 100], "tickCount": 3, "grid": true, "gridColor": "#A8A8A8", "domain": false, "ticks": false, "labelFontSize": 18.5, "labelPadding": 19, "labelOverlap": false, "titleX": -39, "titleY": 148}}
          }
        },
        {
          "data": {"values": [{}]},
          "mark": {"type": "rect", "fill": "white"},
          "encoding": {"x": {"datum": 1.02, "type": "quantitative"}, "x2": {"datum": 91}, "y": {"datum": 122, "type": "quantitative"}, "y2": {"datum": 296}}
        },
        {
          "data": {"values": [{}]},
          "mark": {"type": "text", "text": "y=(1.06±0.06)x-(0.06±0.03)", "font": "Liberation Serif", "fontWeight": "bold", "fontSize": 17.5, "baseline": "middle", "align": "center", "color": "black"},
          "encoding": {"x": {"datum": 9.8, "type": "quantitative"}, "y": {"datum": 216, "type": "quantitative"}}
        },
        {
          "data": {"values": [{}]},
          "mark": {"type": "text", "text": "R² = 0.9997", "font": "Liberation Serif", "fontWeight": "bold", "fontSize": 17.5, "baseline": "middle", "align": "center", "color": "black"},
          "encoding": {"x": {"datum": 9.8, "type": "quantitative"}, "y": {"datum": 149, "type": "quantitative"}}
        },
        {
          "data": {"values": [{}]},
          "mark": {"type": "text", "text": "c", "font": "Liberation Serif", "fontWeight": "bold", "fontSize": 34, "baseline": "alphabetic", "align": "center", "color": "black"},
          "encoding": {"x": {"datum": 2.6, "type": "quantitative"}, "y": {"datum": 32.8, "type": "quantitative"}}
        }
      ]
    }
  ],
  "spacing": 69,
  "bounds": "flush"
}
],
"spacing": 70,
"bounds": "flush"
}
